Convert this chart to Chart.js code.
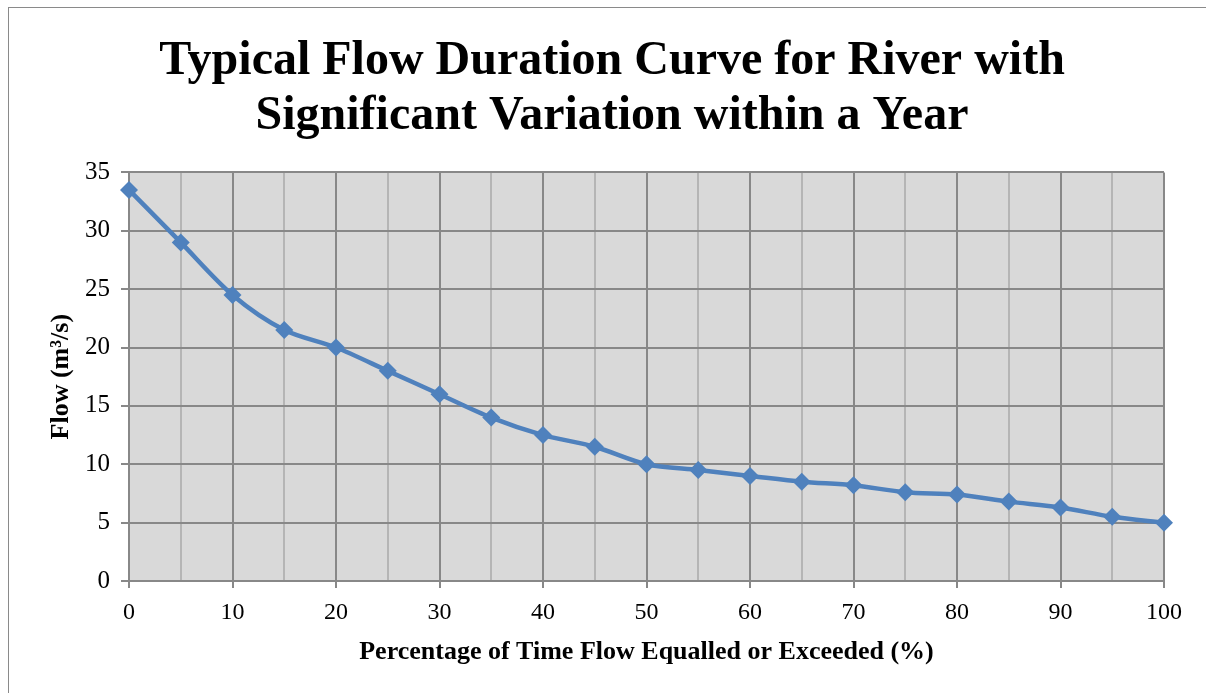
<!DOCTYPE html>
<html>
<head>
<meta charset="utf-8">
<script src="https://cdn.jsdelivr.net/npm/chart.js@4.4.1/dist/chart.umd.min.js"></script>
<style>
  html, body { margin: 0; padding: 0; background: #fff; overflow: hidden; }
  #frame {
    position: absolute; left: 8px; top: 7px;
    width: 1240px; height: 720px;
    border: 1px solid #8a8a8a; box-sizing: border-box;
  }
  #wrap { position: absolute; left: 9px; top: 8px; width: 1206px; height: 685px; }
</style>
</head>
<body>
<div id="frame"></div>
<div id="wrap"><canvas id="fdc"></canvas></div>
<script>
// percentage of time flow equalled or exceeded
const percentTime = [0, 5, 10, 15, 20, 25, 30, 35, 40, 45, 50, 55, 60, 65, 70, 75, 80, 85, 90, 95, 100];
// flow in m3/s
const flowValues = [33.5, 29, 24.5, 21.5, 20, 18, 16, 14, 12.5, 11.5, 10, 9.5, 9, 8.5, 8.2, 7.6, 7.4, 6.8, 6.3, 5.5, 5];

const yTicks = [0, 5, 10, 15, 20, 25, 30, 35];
const xTicks = [0, 10, 20, 30, 40, 50, 60, 70, 80, 90, 100];

const serif = "'Liberation Serif', 'Times New Roman', serif";
const majorGrid = "#888888";
const minorGrid = "#b5b5b5";

// grey plot background
const plotBg = {
  id: "plotBg",
  beforeDraw(chart) {
    const { ctx, chartArea: a } = chart;
    ctx.save();
    ctx.fillStyle = "#d9d9d9";
    ctx.fillRect(a.left, a.top, a.right - a.left, a.bottom - a.top);
    ctx.restore();
  },
};

const ctx = document.getElementById("fdc");
new Chart(ctx, {
  type: "line",
  data: {
    datasets: [
      {
        data: percentTime.map((x, i) => ({ x: x, y: flowValues[i] })),
        borderColor: "#4f81bd",
        backgroundColor: "#4f81bd",
        borderWidth: 4.5,
        tension: 0.3,
        pointStyle: "rectRot",
        pointRadius: 9,
        pointBorderWidth: 0,
        pointHoverRadius: 9,
        clip: false,
      },
    ],
  },
  options: {
    responsive: true,
    maintainAspectRatio: false,
    animation: false,
    layout: { padding: 0 },
    plugins: {
      legend: { display: false },
      tooltip: { enabled: false },
      title: {
        display: true,
        text: ["Typical Flow Duration Curve for River with", "Significant Variation within a Year"],
        color: "#000",
        font: { family: serif, size: 48, weight: "bold", lineHeight: 1.15 },
        padding: { top: 26, bottom: 28 },
      },
    },
    scales: {
      x: {
        type: "linear",
        min: 0,
        max: 100,
        afterFit: (s) => { s.height = 112; },
        afterBuildTicks: (s) => {
          s.ticks = percentTime.map((v) => ({ value: v }));
        },
        ticks: {
          color: "#000",
          font: { family: serif, size: 24 },
          padding: 10,
          maxRotation: 0,
          autoSkip: false,
          callback: (v) => (xTicks.includes(v) ? String(v) : ""),
        },
        grid: {
          color: (c) => (c.tick && xTicks.includes(c.tick.value) ? majorGrid : minorGrid),
          tickColor: (c) => (c.tick && xTicks.includes(c.tick.value) ? majorGrid : "rgba(0,0,0,0)"),
          lineWidth: 2,
          tickLength: 7,
        },
        border: { color: majorGrid, width: 2 },
        title: {
          display: true,
          text: "Percentage of Time Flow Equalled or Exceeded (%)",
          color: "#000",
          font: { family: serif, size: 26, weight: "bold" },
          padding: { top: 0, bottom: 25 },
        },
      },
      y: {
        min: 0,
        max: 35,
        afterFit: (s) => { s.width = 120; },
        afterBuildTicks: (s) => {
          s.ticks = yTicks.map((v) => ({ value: v }));
        },
        ticks: {
          color: "#000",
          font: { family: serif, size: 25 },
          padding: 11,
        },
        grid: {
          color: majorGrid,
          lineWidth: 2,
          tickLength: 8,
        },
        border: { color: majorGrid, width: 2 },
        title: {
          display: true,
          text: "Flow (m³/s)",
          color: "#000",
          font: { family: serif, size: 26, weight: "bold" },
          padding: { top: 37, bottom: 0 },
        },
      },
      // empty right-hand spacer so the title stays centred on the whole frame
      spacer: {
        type: "linear",
        position: "right",
        afterFit: (s) => { s.width = 51; },
        ticks: { display: false },
        grid: { display: false, drawTicks: false },
        border: { display: false },
      },
    },
  },
  plugins: [plotBg],
});
</script>
</body>
</html>
